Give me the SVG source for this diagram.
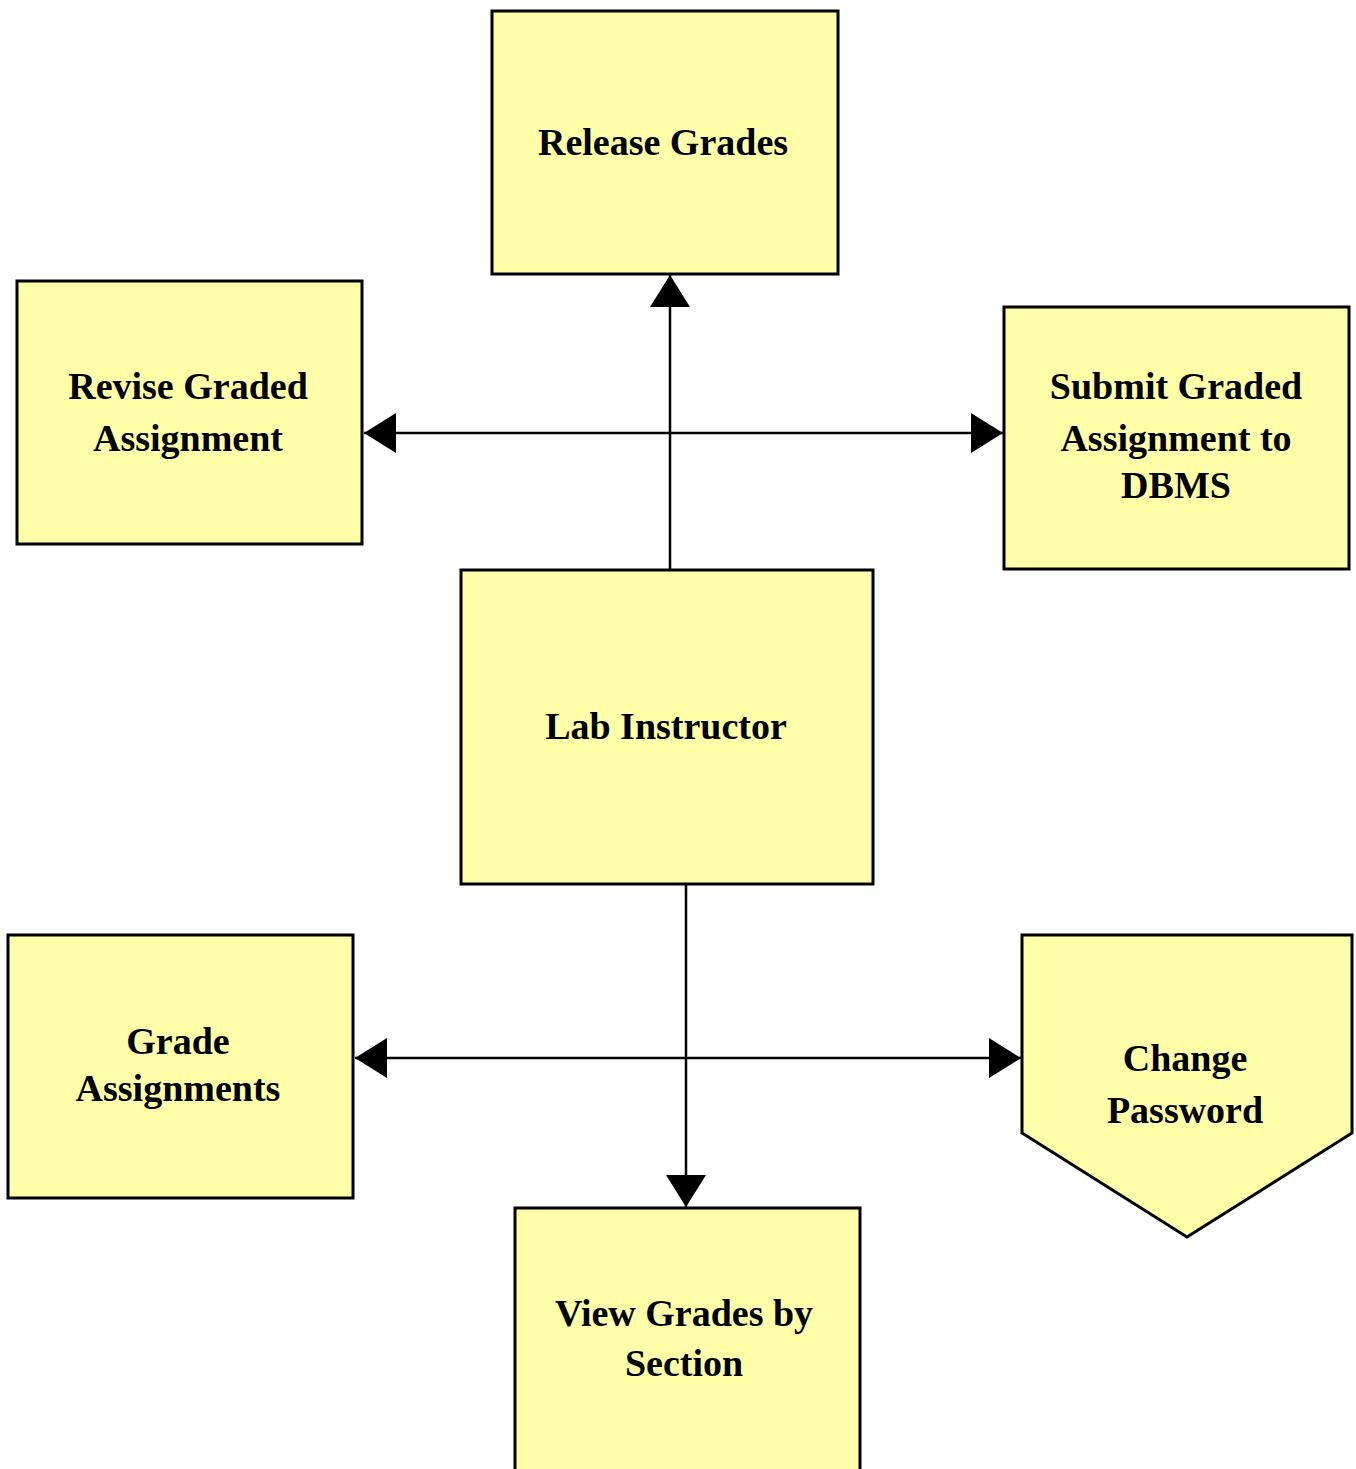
<svg xmlns="http://www.w3.org/2000/svg" width="1356" height="1469" viewBox="0 0 1356 1469">
  <defs>
    <style>
      .box { fill: #FFFFAA; stroke: #000; stroke-width: 3; }
      .lbl { font-family: "Liberation Serif", "Times New Roman", serif; font-weight: bold; font-size: 38px; fill: #000; text-anchor: middle; }
      .wire { stroke: #000; stroke-width: 2.5; fill: none; }
    </style>
    <marker id="head" viewBox="0 0 32 40" refX="32" refY="20" markerWidth="32" markerHeight="40" markerUnits="userSpaceOnUse" orient="auto-start-reverse">
      <path d="M0 0 L32 20 L0 40 Z" fill="#000"/>
    </marker>
  </defs>
  <rect width="1356" height="1469" fill="#fff"/>

  <!-- connectors -->
  <g id="connectors">
    <line class="wire" x1="670" y1="570" x2="670" y2="275" marker-end="url(#head)"/>
    <line class="wire" x1="364" y1="433" x2="1003" y2="433" marker-start="url(#head)" marker-end="url(#head)"/>
    <line class="wire" x1="686" y1="884" x2="686" y2="1207" marker-end="url(#head)"/>
    <line class="wire" x1="355" y1="1058" x2="1021" y2="1058" marker-start="url(#head)" marker-end="url(#head)"/>
  </g>

  <g id="release-grades">
    <rect class="box" x="492" y="11" width="346" height="263"/>
    <text class="lbl" x="663" y="155">Release Grades</text>
  </g>

  <g id="revise-graded-assignment">
    <rect class="box" x="17" y="281" width="345" height="263"/>
    <text class="lbl" x="188" y="399">Revise Graded</text>
    <text class="lbl" x="188" y="451">Assignment</text>
  </g>

  <g id="submit-graded-assignment">
    <rect class="box" x="1004" y="307" width="345" height="262"/>
    <text class="lbl" x="1176" y="399">Submit Graded</text>
    <text class="lbl" x="1176" y="451">Assignment to</text>
    <text class="lbl" x="1176" y="498">DBMS</text>
  </g>

  <g id="lab-instructor">
    <rect class="box" x="461" y="570" width="412" height="314"/>
    <text class="lbl" x="666" y="739">Lab Instructor</text>
  </g>

  <g id="grade-assignments">
    <rect class="box" x="8" y="935" width="345" height="263"/>
    <text class="lbl" x="178" y="1054">Grade</text>
    <text class="lbl" x="178" y="1101">Assignments</text>
  </g>

  <g id="change-password">
    <path class="box" d="M1022 935 L1352 935 L1352 1133 L1187 1237 L1022 1133 Z"/>
    <text class="lbl" x="1185" y="1071">Change</text>
    <text class="lbl" x="1185" y="1123">Password</text>
  </g>

  <g id="view-grades-by-section">
    <rect class="box" x="515" y="1208" width="345" height="275"/>
    <text class="lbl" x="684" y="1326">View Grades by</text>
    <text class="lbl" x="684" y="1376">Section</text>
  </g>
</svg>
